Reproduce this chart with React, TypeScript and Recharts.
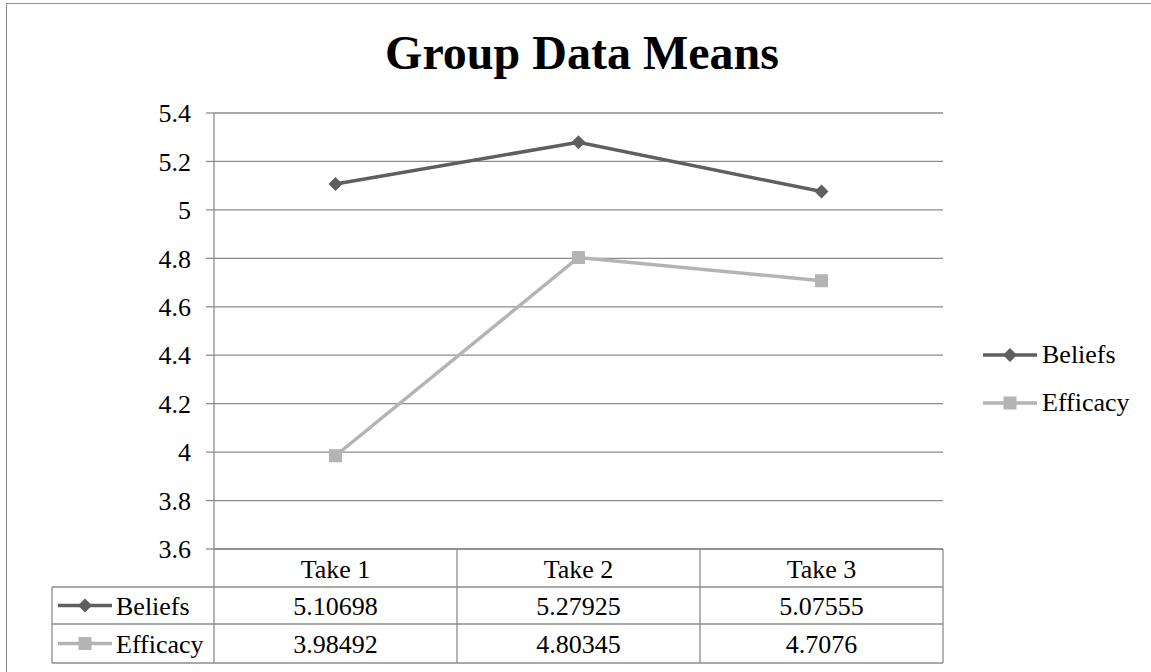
import React from "react";
import { LineChart, Line, XAxis, YAxis, CartesianGrid } from "recharts";

// chart values
const CATEGORIES = ["Take 1", "Take 2", "Take 3"];
const BELIEFS = [5.10698, 5.27925, 5.07555];
const EFFICACY = [3.98492, 4.80345, 4.7076];
const Y_TICKS = [3.6, 3.8, 4, 4.2, 4.4, 4.6, 4.8, 5, 5.2, 5.4];
const SERIES = [
  { key: "beliefs", name: "Beliefs", values: BELIEFS },
  { key: "efficacy", name: "Efficacy", values: EFFICACY },
];

const W = 1151;
const H = 672;
const FONT = '"Liberation Serif", "Times New Roman", serif';
const FS = 26;
const DARK = "#5f5f5f";
const LIGHT = "#b4b4b4";
const GRID = "#8c8c8c";
const MARGIN = { top: 113, right: 208, bottom: 85, left: 154 };
const Y_W = 60;
const X_H = 38;

const PLOT_BOTTOM = H - MARGIN.bottom - X_H;
const PLOT_W = W - MARGIN.left - MARGIN.right - Y_W;
const BAND = PLOT_W / CATEGORIES.length;
const ROW_H = [38, 37, 39];
const TABLE_LEFT = 52;

const COLORS: Record<string, string> = { beliefs: DARK, efficacy: LIGHT };

const data = CATEGORIES.map((c, i) => ({
  name: c,
  beliefs: BELIEFS[i],
  efficacy: EFFICACY[i],
}));

function Marker({ kind, cx, cy }: { kind: string; cx: number; cy: number }) {
  if (kind === "beliefs") {
    const r = 7;
    return (
      <polygon
        points={`${cx},${cy - r} ${cx + r},${cy} ${cx},${cy + r} ${cx - r},${cy}`}
        fill={DARK}
      />
    );
  }
  return <rect x={cx - 6.5} y={cy - 6.5} width={13} height={13} fill={LIGHT} />;
}

function KeySvg({ kind }: { kind: string }) {
  return (
    <svg width={56} height={16} style={{ display: "block" }}>
      <line x1={1} y1={8} x2={55} y2={8} stroke={COLORS[kind]} strokeWidth={3.5} />
      <Marker kind={kind} cx={28} cy={8} />
    </svg>
  );
}

// x-axis tick draws a whole column of the data table
function TableColumn(props: any) {
  const { x, index, payload } = props;
  const i = index ?? payload?.index ?? 0;
  const half = BAND / 2;
  const top = PLOT_BOTTOM;
  const r1 = top + ROW_H[0];
  const r2 = r1 + ROW_H[1];
  const r3 = r2 + ROW_H[2];
  const textProps = {
    style: { fontFamily: FONT },
    fontSize: FS,
    fill: "#000",
    textAnchor: "middle" as const,
    dominantBaseline: "central" as const,
  };
  return (
    <g>
      {i === 0 && (
        <g>
          <line x1={x - half} y1={top} x2={x - half} y2={r3} stroke={GRID} strokeWidth={1.3} />
          <line x1={TABLE_LEFT} y1={r1} x2={x - half} y2={r1} stroke={GRID} strokeWidth={1.3} />
          <line x1={TABLE_LEFT} y1={r2} x2={x - half} y2={r2} stroke={GRID} strokeWidth={1.3} />
          <line x1={TABLE_LEFT} y1={r3} x2={x - half} y2={r3} stroke={GRID} strokeWidth={1.3} />
          <line x1={TABLE_LEFT} y1={r1} x2={TABLE_LEFT} y2={r3} stroke={GRID} strokeWidth={1.3} />
          {SERIES.map((s, k) => {
            const cy = k === 0 ? (r1 + r2) / 2 : (r2 + r3) / 2;
            return (
              <g key={s.key}>
                <line x1={TABLE_LEFT + 6} y1={cy} x2={TABLE_LEFT + 60} y2={cy} stroke={COLORS[s.key]} strokeWidth={3.5} />
                <Marker kind={s.key} cx={TABLE_LEFT + 33} cy={cy} />
                <text {...textProps} x={TABLE_LEFT + 64} y={cy + 1} textAnchor="start">
                  {s.name}
                </text>
              </g>
            );
          })}
        </g>
      )}
      <line x1={x + half} y1={top} x2={x + half} y2={r3} stroke={GRID} strokeWidth={1.3} />
      <line x1={x - half} y1={r1} x2={x + half} y2={r1} stroke={GRID} strokeWidth={1.3} />
      <line x1={x - half} y1={r2} x2={x + half} y2={r2} stroke={GRID} strokeWidth={1.3} />
      <line x1={x - half} y1={r3} x2={x + half} y2={r3} stroke={GRID} strokeWidth={1.3} />
      <text {...textProps} x={x} y={(top + r1) / 2 + 1}>
        {payload.value}
      </text>
      <text {...textProps} x={x} y={(r1 + r2) / 2 + 1}>
        {BELIEFS[i]}
      </text>
      <text {...textProps} x={x} y={(r2 + r3) / 2 + 1}>
        {EFFICACY[i]}
      </text>
    </g>
  );
}

export default function App() {
  return (
    <div
      style={{
        position: "absolute",
        left: 0,
        top: 0,
        width: W,
        height: H,
        overflow: "hidden",
        background: "#fff",
        fontFamily: FONT,
      }}
    >
      {/* outer chart border */}
      <div
        style={{
          position: "absolute",
          left: 6,
          top: 3,
          width: W + 20,
          height: H + 20,
          border: "1.5px solid #8c8c8c",
        }}
      />
      {/* title */}
      <div
        style={{
          position: "absolute",
          left: 0,
          top: 23,
          width: 1164,
          textAlign: "center",
          fontSize: 48,
          fontWeight: "bold",
          lineHeight: "60px",
        }}
      >
        Group Data Means
      </div>

      <div style={{ position: "absolute", left: 0, top: 0 }}>
        <LineChart width={W} height={H} data={data} margin={MARGIN}>
          <CartesianGrid vertical={false} stroke={GRID} strokeWidth={1.3} />
          <XAxis
            dataKey="name"
            height={X_H}
            padding={{ left: BAND / 2, right: BAND / 2 }}
            axisLine={{ stroke: GRID, strokeWidth: 1.3 }}
            tickLine={false}
            interval={0}
            tick={<TableColumn />}
          />
          <YAxis
            width={Y_W}
            domain={[3.6, 5.4]}
            ticks={Y_TICKS}
            allowDataOverflow
            axisLine={{ stroke: GRID, strokeWidth: 1.3 }}
            tickLine={{ stroke: GRID, strokeWidth: 1.3 }}
            tickSize={8}
            tickMargin={15}
            tick={{ fontFamily: FONT, fontSize: FS, fill: "#000" }}
          />
          {SERIES.map((s) => (
            <Line
              key={s.key}
              dataKey={s.key}
              name={s.name}
              stroke={COLORS[s.key]}
              strokeWidth={3.5}
              isAnimationActive={false}
              dot={(p: any) => <Marker key={`${s.key}-${p.index}`} kind={s.key} cx={p.cx} cy={p.cy} />}
              activeDot={false}
            />
          ))}
        </LineChart>
      </div>

      {/* legend on the right */}
      <div style={{ position: "absolute", left: 982, top: 340 }}>
        {SERIES.map((s) => (
          <div
            key={s.key}
            style={{ display: "flex", alignItems: "center", height: 30, marginBottom: 18, fontSize: FS }}
          >
            <KeySvg kind={s.key} />
            <span style={{ marginLeft: 4 }}>{s.name}</span>
          </div>
        ))}
      </div>
    </div>
  );
}
